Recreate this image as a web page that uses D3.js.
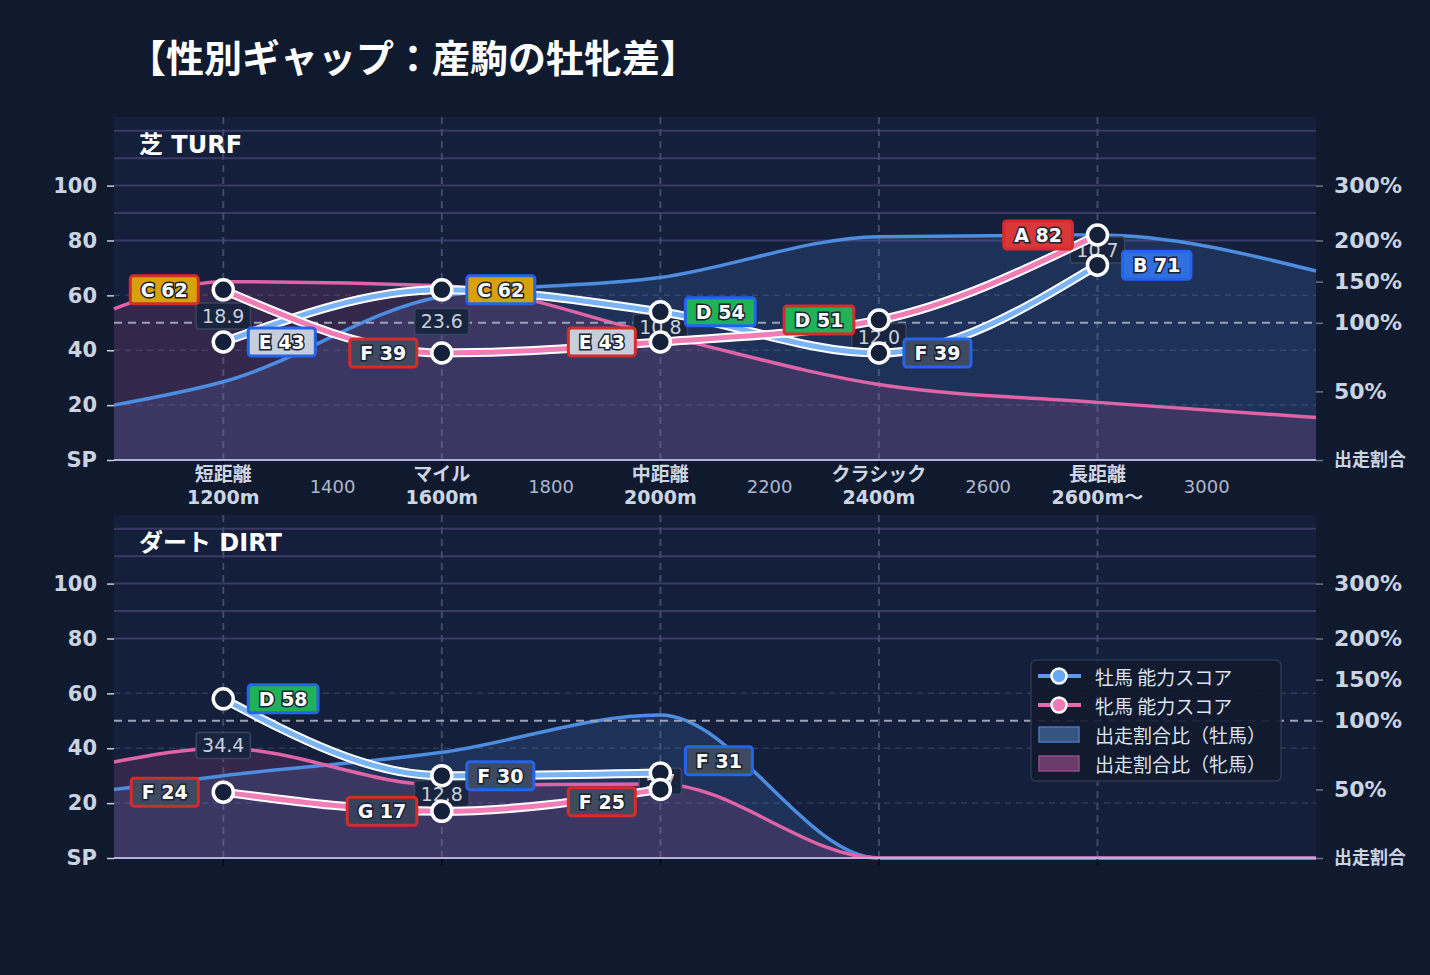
<!DOCTYPE html>
<html>
<head>
<meta charset="utf-8">
<script src="https://cdn.jsdelivr.net/npm/d3@7"></script>
<style>
  body { margin: 0; background: #101a2f; }
  svg text { font-family: "DejaVu Sans", "Noto Sans CJK JP", sans-serif; }
</style>
</head>
<body>
<div id="chart"></div>
<script>
// ---- data ----
var catNames = ["短距離", "マイル", "中距離", "クラシック", "長距離"];
var catDists = ["1200m", "1600m", "2000m", "2400m", "2600m〜"];
var minorLabels = ["1400", "1800", "2200", "2600", "3000"];

var turfMaleScore = [43, 62, 54, 39, 71];
var turfMaleGrade = ["E", "C", "D", "F", "B"];
var turfFemaleScore = [62, 39, 43, 51, 82];
var turfFemaleGrade = ["C", "F", "E", "D", "A"];
var turfGap = [18.9, 23.6, 10.8, 12.0, 10.7];

var dirtMaleScore = [58, 30, 31, null, null];
var dirtMaleGrade = ["D", "F", "F", null, null];
var dirtFemaleScore = [24, 17, 25, null, null];
var dirtFemaleGrade = ["F", "G", "F", null, null];
var dirtGap = [34.4, 12.8, 5.7, null, null];

// entry ratio (%) : left edge, each category, right edge
var ratioPos = [-0.5, 0, 1, 2, 3, 4, 5];
var turfMaleRatio = [40, 57, 132, 155, 207, 210, 163];
var turfFemaleRatio = [117, 150, 145, 91, 55, 42, 31];
var dirtMaleRatio = [50, 60, 77, 107, 0, 0, 0];
var dirtFemaleRatio = [70, 80, 53, 54, 0, 0, 0];

var scoreTicks = [0, 20, 40, 60, 80, 100];
var ratioTicks = [0, 50, 100, 150, 200, 300];

var gradeFill = { A: "#d83838", B: "#2f6fdf", C: "#d7a10b", D: "#1fb257", E: "#c6cedb", F: "#3e4a60", G: "#36425a" };
var maleColor = "#7ab4f7", femaleColor = "#f07db5";
var maleBorder = "#2563eb", femaleBorder = "#d42b2b";

// ---- layout ----
var svgWidth = 1430, svgHeight = 975;
var svg = d3.select("#chart").append("svg")
	.attr("width", svgWidth)
	.attr("height", svgHeight);

svg.append("rect").attr("width", svgWidth).attr("height", svgHeight).attr("fill", "#101a2f");

svg.append("text")
	.attr("x", 128).attr("y", 55)
	.attr("dominant-baseline", "central")
	.attr("fill", "#ffffff")
	.style("font-size", "38px").style("font-weight", "bold")
	.style("font-family", "'Noto Sans CJK JP', sans-serif")
	.text("【性別ギャップ：産駒の牡牝差】");

var x = d3.scaleLinear().domain([-0.5, 5]).range([114, 1316]);
var ratioToScore = d3.scaleLinear().domain([0, 100, 200, 300]).range([0, 50, 80, 100]);

function drawPanel(cfg) {
	var top = cfg.top, bottom = cfg.bottom;
	var y = d3.scaleLinear().domain([0, 125]).range([bottom, top]);
	var yr = d3.scaleLinear().domain([0, 100, 200, 300]).range([y(0), y(50), y(80), y(100)]);
	var g = svg.append("g");

	g.append("rect")
		.attr("x", x(-0.5)).attr("y", top)
		.attr("width", x(5) - x(-0.5)).attr("height", bottom - top)
		.attr("fill", "#131f3b");

	// gridlines
	g.selectAll(".gsolid").data([80, 90, 100, 110, 120]).enter().append("line")
		.attr("x1", x(-0.5)).attr("x2", x(5))
		.attr("y1", y).attr("y2", y)
		.attr("stroke", "#3b3a64").attr("stroke-width", 2);
	g.selectAll(".gdash").data([20, 40, 60]).enter().append("line")
		.attr("x1", x(-0.5)).attr("x2", x(5))
		.attr("y1", y).attr("y2", y)
		.attr("stroke", "#2e3a5a").attr("stroke-width", 1.5)
		.attr("stroke-dasharray", "6,5");
	g.selectAll(".vdash").data(d3.range(catNames.length)).enter().append("line")
		.attr("x1", x).attr("x2", x)
		.attr("y1", top).attr("y2", bottom)
		.attr("stroke", "#3e4c6a").attr("stroke-width", 2)
		.attr("stroke-dasharray", "7,5");

	// entry ratio areas
	var area = d3.area()
		.curve(d3.curveMonotoneX)
		.x(function(d) { return x(d.p); })
		.y0(y(0))
		.y1(function(d) { return y(ratioToScore(d.r)); });
	var areaLine = area.lineY1();

	var series = [
		{ r: cfg.maleRatio, fill: "#4a7ecc", stroke: "#4d8de0" },
		{ r: cfg.femaleRatio, fill: "#b4508a", stroke: "#de63a7" }
	];
	series.forEach(function(s) {
		var pts = ratioPos.map(function(p, i) { return { p: p, r: s.r[i] }; });
		g.append("path").attr("d", area(pts)).attr("fill", s.fill).attr("fill-opacity", 0.2);
		s.pts = pts;
	});
	series.forEach(function(s) {
		g.append("path").attr("d", areaLine(s.pts))
			.attr("fill", "none").attr("stroke", s.stroke).attr("stroke-width", 3.5);
	});

	// 100% reference
	g.append("line")
		.attr("x1", x(-0.5)).attr("x2", x(5))
		.attr("y1", y(50)).attr("y2", y(50))
		.attr("stroke", "#9aa3b6").attr("stroke-width", 2)
		.attr("stroke-dasharray", "8,6");

	g.append("line")
		.attr("x1", x(-0.5)).attr("x2", x(5))
		.attr("y1", bottom).attr("y2", bottom)
		.attr("stroke", "#b9afdc").attr("stroke-width", 2);

	// x ticks
	g.selectAll(".xt").data(d3.range(catNames.length)).enter().append("line")
		.attr("x1", x).attr("x2", x)
		.attr("y1", bottom + 1).attr("y2", bottom + 7)
		.attr("stroke", "#05080f").attr("stroke-width", 1.5);

	// axes
	var la = g.append("g")
		.call(d3.axisLeft(y).tickValues(scoreTicks).tickSize(7).tickPadding(10)
			.tickFormat(function(d) { return d === 0 ? "SP" : d; }))
		.attr("transform", "translate(" + x(-0.5) + ",0)");
	la.select(".domain").remove();
	la.selectAll("line").attr("stroke", "#c5cdd9").attr("stroke-width", 1.5);
	la.selectAll("text").attr("fill", "#cbd3e1").style("font-size", "21px").style("font-weight", "bold");

	var ra = g.append("g")
		.call(d3.axisRight(yr).tickValues(ratioTicks).tickSize(7).tickPadding(11)
			.tickFormat(function(d) { return d === 0 ? "出走割合" : d + "%"; }))
		.attr("transform", "translate(" + x(5) + ",0)");
	ra.select(".domain").remove();
	ra.selectAll("line").attr("stroke", "#6a7488").attr("stroke-width", 1.5);
	ra.selectAll("text").attr("fill", "#cbd3e1")
		.style("font-size", function(d) { return d === 0 ? "18px" : "22px"; })
		.style("font-weight", "bold");

	// panel header
	g.append("text")
		.attr("x", 139).attr("y", top + 28)
		.attr("dominant-baseline", "central")
		.attr("fill", "#ffffff")
		.style("font-size", "24px").style("font-weight", "bold")
		.text(cfg.title);

	if (cfg.showXLabels) {
		catNames.forEach(function(name, i) {
			var t = g.append("text")
				.attr("x", x(i)).attr("text-anchor", "middle")
				.attr("fill", "#cdd5e3")
				.style("font-size", "19px").style("font-weight", "bold");
			t.append("tspan").attr("x", x(i)).attr("y", bottom + 21).text(name);
			t.append("tspan").attr("x", x(i)).attr("y", bottom + 44).text(catDists[i]);
		});
		g.selectAll(".minor").data(minorLabels).enter().append("text")
			.attr("x", function(d, i) { return x(i + 0.5); })
			.attr("y", bottom + 33)
			.attr("text-anchor", "middle")
			.attr("fill", "#aeb8cb")
			.style("font-size", "18px")
			.text(function(d) { return d; });
	}

	// label positions (spread when too close)
	var labelY = catNames.map(function(c, i) {
		var m = cfg.maleScore[i], f = cfg.femaleScore[i];
		if (m == null || f == null) return null;
		var my = y(m), fy = y(f);
		if (Math.abs(my - fy) < 24) {
			var mid = (my + fy) / 2;
			if (my <= fy) { my = mid - 20.5; fy = mid + 20.5; }
			else { my = mid + 20.5; fy = mid - 20.5; }
		}
		return { m: my, f: fy };
	});

	// gap labels
	cfg.gap.forEach(function(v, i) {
		if (v == null) return;
		var cy = (y(cfg.maleScore[i]) + y(cfg.femaleScore[i])) / 2;
		var lg = g.append("g");
		var t = lg.append("text")
			.attr("x", x(i)).attr("y", cy)
			.attr("text-anchor", "middle").attr("dominant-baseline", "central")
			.attr("fill", "#c8d0de")
			.style("font-size", "19px")
			.text(v.toFixed(1));
		var w = t.node().getComputedTextLength() + 12;
		lg.insert("rect", "text")
			.attr("x", x(i) - w / 2).attr("y", cy - 13)
			.attr("width", w).attr("height", 26).attr("rx", 3)
			.attr("fill", "#19243e").attr("stroke", "#39455e").attr("stroke-width", 1.5);
	});

	// score lines
	[[cfg.maleScore, maleColor], [cfg.femaleScore, femaleColor]].forEach(function(s) {
		var idx = s[0].map(function(d, i) { return i; }).filter(function(i) { return s[0][i] != null; });
		var line = d3.line().curve(d3.curveMonotoneX)
			.x(function(i) { return x(i); })
			.y(function(i) { return y(s[0][i]); });
		g.append("path").attr("d", line(idx)).attr("fill", "none")
			.attr("stroke", "#ffffff").attr("stroke-width", 9);
		g.append("path").attr("d", line(idx)).attr("fill", "none")
			.attr("stroke", s[1]).attr("stroke-width", 5);
	});

	// points
	[cfg.maleScore, cfg.femaleScore].forEach(function(arr) {
		arr.forEach(function(v, i) {
			if (v == null) return;
			g.append("circle")
				.attr("cx", x(i)).attr("cy", y(v)).attr("r", 10)
				.attr("fill", "#15203b").attr("stroke", "#ffffff").attr("stroke-width", 3.5);
		});
	});

	// grade labels
	function gradeLabel(cx, cy, side, grade, score, border) {
		var lg = g.append("g");
		var t = lg.append("text")
			.attr("y", cy)
			.attr("text-anchor", "middle").attr("dominant-baseline", "central")
			.attr("fill", "#ffffff")
			.attr("stroke", "#1b2234").attr("stroke-width", 3)
			.attr("paint-order", "stroke")
			.style("font-size", "19px").style("font-weight", "bold")
			.text(grade + " " + score);
		var w = t.node().getComputedTextLength() + 21;
		var bx = side > 0 ? cx + 25 : cx - 25 - w;
		t.attr("x", bx + w / 2);
		lg.insert("rect", "text")
			.attr("x", bx).attr("y", cy - 14)
			.attr("width", w).attr("height", 28).attr("rx", 3)
			.attr("fill", gradeFill[grade])
			.attr("stroke", border).attr("stroke-width", 3);
	}
	catNames.forEach(function(c, i) {
		if (labelY[i] == null) return;
		gradeLabel(x(i), labelY[i].f, -1, cfg.femaleGrade[i], cfg.femaleScore[i], femaleBorder);
		gradeLabel(x(i), labelY[i].m, 1, cfg.maleGrade[i], cfg.maleScore[i], maleBorder);
	});

	return g;
}

drawPanel({
	top: 117, bottom: 460, title: "芝 TURF", showXLabels: true,
	maleScore: turfMaleScore, maleGrade: turfMaleGrade,
	femaleScore: turfFemaleScore, femaleGrade: turfFemaleGrade,
	gap: turfGap, maleRatio: turfMaleRatio, femaleRatio: turfFemaleRatio
});

drawPanel({
	top: 515, bottom: 858, title: "ダート DIRT", showXLabels: false,
	maleScore: dirtMaleScore, maleGrade: dirtMaleGrade,
	femaleScore: dirtFemaleScore, femaleGrade: dirtFemaleGrade,
	gap: dirtGap, maleRatio: dirtMaleRatio, femaleRatio: dirtFemaleRatio
});

// legend
var legendItems = [
	{ label: "牡馬 能力スコア", type: "line", line: "#5b9be9", dot: "#69a8f5" },
	{ label: "牝馬 能力スコア", type: "line", line: "#ea6aaa", dot: "#f07ab8" },
	{ label: "出走割合比（牡馬）", type: "rect", fill: "#345580", stroke: "#4a76b8" },
	{ label: "出走割合比（牝馬）", type: "rect", fill: "#6a3b68", stroke: "#8f4c8c" }
];
var legend = svg.append("g").attr("transform", "translate(1031,660)");
legend.append("rect")
	.attr("width", 250).attr("height", 121).attr("rx", 5)
	.attr("fill", "#111a2f").attr("fill-opacity", 0.92)
	.attr("stroke", "#2d3952").attr("stroke-width", 1.5);
var li = legend.selectAll(".li").data(legendItems).enter().append("g")
	.attr("transform", function(d, i) { return "translate(0," + (16 + i * 29) + ")"; });
li.each(function(d) {
	var s = d3.select(this);
	if (d.type === "line") {
		s.append("line").attr("x1", 7).attr("x2", 50).attr("y1", 0).attr("y2", 0)
			.attr("stroke", d.line).attr("stroke-width", 4);
		s.append("circle").attr("cx", 28).attr("cy", 0).attr("r", 7.5)
			.attr("fill", d.dot).attr("stroke", "#ffffff").attr("stroke-width", 2.5);
	} else {
		s.append("rect").attr("x", 8).attr("y", -7).attr("width", 40).attr("height", 15)
			.attr("fill", d.fill).attr("stroke", d.stroke).attr("stroke-width", 1.5);
	}
	s.append("text").attr("x", 64).attr("y", 0)
		.attr("dominant-baseline", "central")
		.attr("fill", "#dde3ee")
		.style("font-size", "19px")
		.style("font-family", "'Noto Sans CJK JP', sans-serif")
		.text(d.label);
});
</script>
</body>
</html>
